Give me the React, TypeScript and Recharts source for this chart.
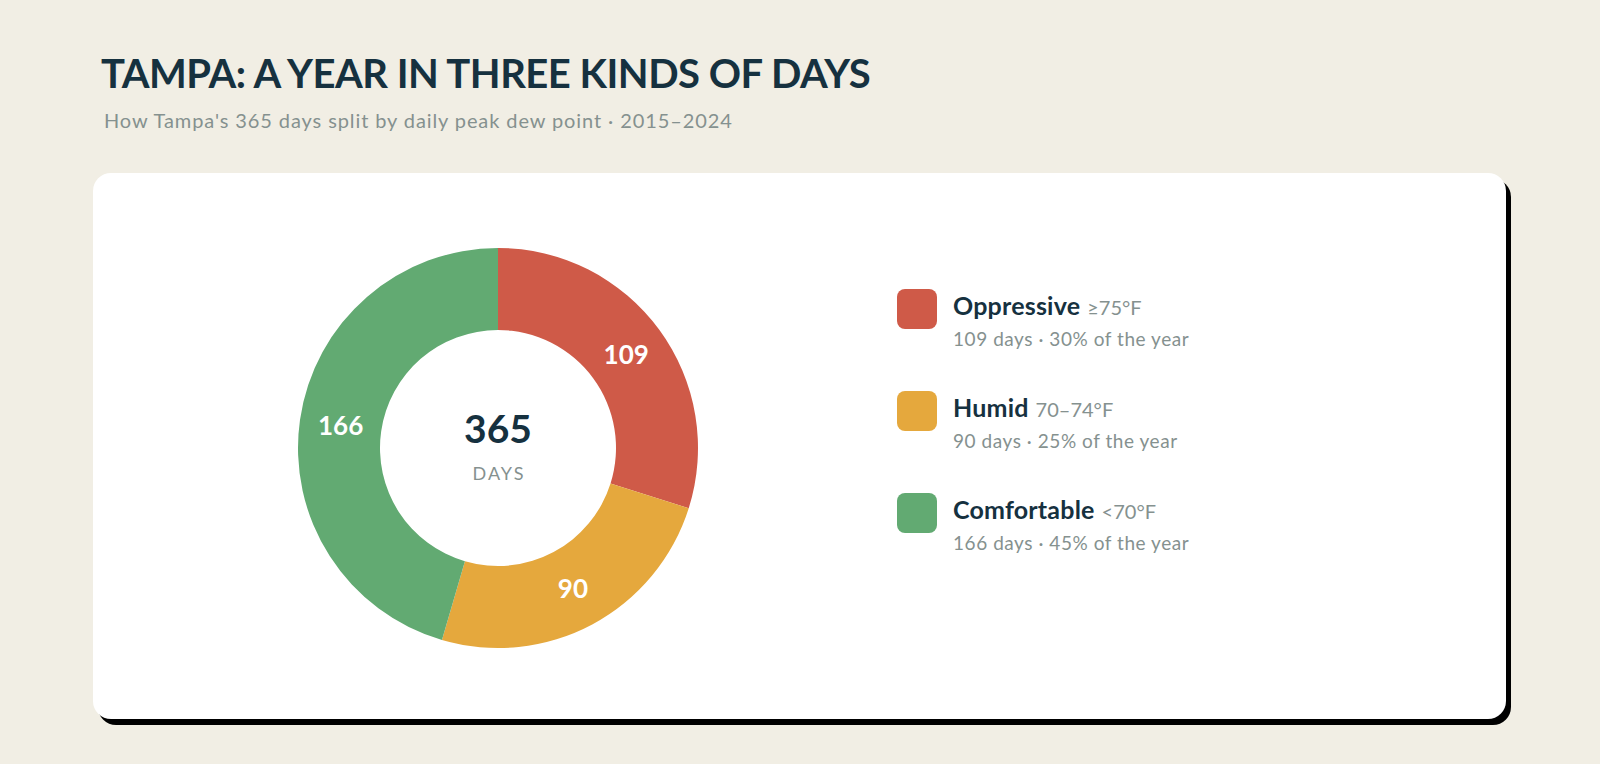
import React from "react";
import { PieChart, Pie, Cell } from "recharts";

const categories = ["Oppressive", "Humid", "Comfortable"];
const ranges = ["≥75°F", "70–74°F", "<70°F"];
const dayCounts = [109, 90, 166];
const shares = ["30%", "25%", "45%"];
const colors = ["#CF5A48", "#E5A83D", "#62AA72"];
const totalDays = 365;

const data = categories.map((name, i) => ({ name, value: dayCounts[i] }));

const FONT = "Lato, 'Noto Sans', sans-serif";
const DARK = "#16313F";
const GRAY = "#85918F";
const RADIAN = Math.PI / 180;

const renderLabel = (props: any) => {
  const { cx, cy, midAngle, innerRadius, outerRadius, value } = props;
  const r = (innerRadius + outerRadius) / 2;
  const x = cx + r * Math.cos(-midAngle * RADIAN);
  const y = cy + r * Math.sin(-midAngle * RADIAN);
  return (
    <text
      x={x}
      y={y}
      fill="#ffffff"
      textAnchor="middle"
      dominantBaseline="central"
      style={{ fontFamily: FONT, fontWeight: 700, fontSize: 26 }}
    >
      {value}
    </text>
  );
};

export default function App() {
  return (
    <div
      style={{
        position: "fixed",
        left: 0,
        top: 0,
        width: 1600,
        height: 764,
        background: "#F1EEE4",
        fontFamily: FONT,
        overflow: "hidden",
      }}
    >
      <div
        style={{
          position: "absolute",
          left: 101,
          top: 48.5,
          fontSize: 40,
          fontWeight: 700,
          color: DARK,
          letterSpacing: -0.5,
          lineHeight: "normal",
          whiteSpace: "nowrap",
        }}
      >
        TAMPA: A YEAR IN THREE KINDS OF DAYS
      </div>
      <div
        style={{
          position: "absolute",
          left: 104,
          top: 107.5,
          fontSize: 20,
          fontWeight: 400,
          color: GRAY,
          letterSpacing: 0.9,
          lineHeight: "normal",
          whiteSpace: "nowrap",
        }}
      >
        How Tampa's 365 days split by daily peak dew point · 2015–2024
      </div>

      <div
        style={{
          position: "absolute",
          left: 93,
          top: 173,
          width: 1413,
          height: 546,
          background: "#ffffff",
          borderRadius: 18,
          boxShadow: "5px 6px 0 #000000",
        }}
      />

      <div style={{ position: "absolute", left: 288, top: 238 }}>
        <PieChart width={420} height={420} margin={{ top: 0, right: 0, bottom: 0, left: 0 }}>
          <Pie
            data={data}
            dataKey="value"
            nameKey="name"
            cx={210}
            cy={210}
            innerRadius={118}
            outerRadius={200}
            startAngle={90}
            endAngle={-270}
            stroke="none"
            isAnimationActive={false}
            label={renderLabel}
            labelLine={false}
          >
            {data.map((d, i) => (
              <Cell key={d.name} fill={colors[i]} />
            ))}
          </Pie>
        </PieChart>
      </div>

      <svg
        width={240}
        height={120}
        style={{ position: "absolute", left: 378, top: 388, overflow: "visible" }}
      >
        <text
          x={120}
          y={54.7}
          textAnchor="middle"
          fill={DARK}
          style={{ fontFamily: FONT, fontWeight: 700, fontSize: 39 }}
        >
          {totalDays}
        </text>
        <text
          x={121}
          y={92}
          textAnchor="middle"
          fill={GRAY}
          style={{ fontFamily: FONT, fontWeight: 400, fontSize: 18, letterSpacing: 2 }}
        >
          DAYS
        </text>
      </svg>

      {categories.map((name, i) => (
        <div key={name}>
          <div
            style={{
              position: "absolute",
              left: 897,
              top: 289 + 102 * i,
              width: 40,
              height: 40,
              borderRadius: 8,
              background: colors[i],
            }}
          />
          <div
            style={{
              position: "absolute",
              left: 953,
              top: 289.6 + 102 * i,
              whiteSpace: "nowrap",
              lineHeight: "normal",
            }}
          >
            <span style={{ fontSize: 25, fontWeight: 700, color: DARK, letterSpacing: 0.2 }}>{name}</span>
            <span style={{ fontSize: 20, fontWeight: 400, color: GRAY, marginLeft: 7 }}>{ranges[i]}</span>
          </div>
          <div
            style={{
              position: "absolute",
              left: 953,
              top: 327 + 102 * i,
              fontSize: 19,
              color: GRAY,
              letterSpacing: 0.55,
              whiteSpace: "nowrap",
              lineHeight: "normal",
            }}
          >
            {dayCounts[i]} days · {shares[i]} of the year
          </div>
        </div>
      ))}
    </div>
  );
}
